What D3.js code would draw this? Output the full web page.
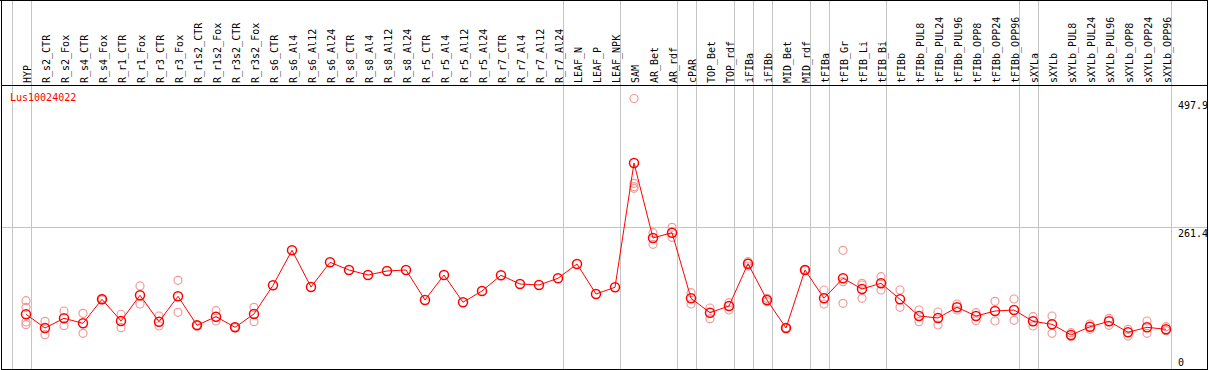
<!DOCTYPE html>
<html>
<head>
<meta charset="utf-8">
<script src="https://cdn.jsdelivr.net/npm/d3@7"></script>
<style>
  body { margin: 0; background: #fff; }
  svg { display: block; }
  text { font-family: "DejaVu Sans Mono", monospace; font-size: 10px; }
</style>
</head>
<body>
<div id="chart"></div>
<script>
var svgWidth = 1209;
var svgHeight = 370;

var geneName = "Lus10024022";

var categories = ["HYP", "R_s2_CTR", "R_s2_Fox", "R_s4_CTR", "R_s4_Fox", "R_r1_CTR", "R_r1_Fox",
    "R_r3_CTR", "R_r3_Fox", "R_r1s2_CTR", "R_r1s2_Fox", "R_r3s2_CTR", "R_r3s2_Fox",
    "R_s6_CTR", "R_s6_Al4", "R_s6_Al12", "R_s6_Al24", "R_s8_CTR", "R_s8_Al4", "R_s8_Al12", "R_s8_Al24",
    "R_r5_CTR", "R_r5_Al4", "R_r5_Al12", "R_r5_Al24", "R_r7_CTR", "R_r7_Al4", "R_r7_Al12", "R_r7_Al24",
    "LEAF_N", "LEAF_P", "LEAF_NPK", "SAM", "AR_Bet", "AR_rdf", "cPAR", "TOP_Bet", "TOP_rdf",
    "iFIBa", "iFIBb", "MID_Bet", "MID_rdf", "tFIBa", "tFIB_Gr", "tFIB_Li", "tFIB_Bi", "tFIBb",
    "tFIBb_PUL8", "tFIBb_PUL24", "tFIBb_PUL96", "tFIBb_OPP8", "tFIBb_OPP24", "tFIBb_OPP96",
    "sXYLa", "sXYLb", "sXYLb_PUL8", "sXYLb_PUL24", "sXYLb_PUL96", "sXYLb_OPP8", "sXYLb_OPP24", "sXYLb_OPP96"];

// last category of each sample group (a grey separator is drawn after it)
var groupEnds = ["HYP", "R_r7_Al24", "LEAF_NPK", "AR_rdf", "cPAR", "TOP_rdf", "iFIBa", "iFIBb",
    "MID_rdf", "tFIBa", "tFIB_Bi", "tFIBb_OPP96", "sXYLa", "sXYLb_OPP96"];

var meanValues = [102.2, 77.0, 94.8, 85.6, 129.7, 89.9, 137.0, 88.6, 135.2, 82.0, 97.8, 78.3, 102.7,
    155.3, 219.5, 152.2, 197.5, 183.4, 174.2, 181.6, 183.4,
    128.4, 174.2, 124.2, 144.9, 173.7, 157.7, 155.9, 168.2,
    194.4, 139.4, 151.7, 379.6, 242.1, 251.8, 131.5, 105.1, 117.4,
    195.0, 128.4, 77.0, 183.4, 131.5, 168.2, 148.6, 159.0, 129.7,
    99.0, 95.4, 115.0, 99.0, 108.2, 110.0,
    89.3, 83.8, 64.2, 79.4, 89.3, 69.1, 78.3, 74.6];

var replicateValues = [
    [127.1, 115.0, 88.0, 83.1], [89.3, 64.7], [108.2, 81.2], [104.0, 67.3], [128.5, 131.0],
    [102.2, 77.6], [154.1, 121.0], [99.0, 80.7], [164.5, 105.8], [82.5, 81.5], [108.8, 89.9],
    [79.0, 77.6], [115.0, 88.6],
    [], [], [], [], [], [], [], [],
    [], [], [], [], [], [], [], [],
    [], [], [],
    [497.9, 342.4, 336.2, 333.2], [251.8, 230.5], [261.7, 243.4], [141.8, 121.0], [113.7, 94.1], [123.4, 110.0],
    [198.6, 190.7], [131.5, 125.3], [77.5, 76.5], [183.0, 184.0], [146.7, 121.0],
    [219.5, 161.9, 122.3], [159.0, 155.9, 131.5], [171.1, 146.7], [146.7, 115.0],
    [110.0, 88.6], [106.4, 82.5], [121.0, 110.0], [105.1, 90.4], [126.0, 89.9], [130.2, 91.1],
    [97.8, 80.7], [99.0, 67.3], [68.4, 61.1], [84.4, 74.6], [94.8, 82.0], [74.6, 62.4], [89.9, 67.3], [79.4, 72.1]];

var yTicks = [0, 261.4, 497.9];

var headerBottom = 85;

var svg = d3.select("#chart")
    .append("svg")
    .attr("width", svgWidth)
    .attr("height", svgHeight);

var xScale = d3.scalePoint()
    .domain(categories)
    .range([26, 1166]);

var step = xScale.step();

var yScale = d3.scaleLinear()
    .domain([0, 497.9])
    .range([370, 98.5]);

// grey separators between sample groups
var sepX = [xScale(categories[0]) - step + 4.5].concat(groupEnds.map(d => xScale(d) + 4.5));
svg.append("g")
    .selectAll("line")
    .data(sepX)
    .enter()
    .append("line")
    .attr("x1", d => Math.round(d) + 0.5)
    .attr("x2", d => Math.round(d) + 0.5)
    .attr("y1", 0)
    .attr("y2", svgHeight)
    .attr("stroke", "#c4c4c4")
    .attr("stroke-width", 1);

// horizontal grid for inner ticks
svg.append("g")
    .selectAll("line")
    .data(yTicks.filter(d => d > 0 && d < 497.9))
    .enter()
    .append("line")
    .attr("x1", 1)
    .attr("x2", 1208)
    .attr("y1", d => Math.round(yScale(d)) + 0.5)
    .attr("y2", d => Math.round(yScale(d)) + 0.5)
    .attr("stroke", "#c4c4c4")
    .attr("stroke-width", 1);

// frame
svg.append("line").attr("x1", 0).attr("x2", 1208).attr("y1", 0.5).attr("y2", 0.5).attr("stroke", "#000");
svg.append("line").attr("x1", 1).attr("x2", 1208).attr("y1", headerBottom + 0.5).attr("y2", headerBottom + 0.5).attr("stroke", "#000");
svg.append("line").attr("x1", 1).attr("x2", 1208).attr("y1", 369.5).attr("y2", 369.5).attr("stroke", "#000");
svg.append("line").attr("x1", 1.5).attr("x2", 1.5).attr("y1", 0).attr("y2", 370).attr("stroke", "#000");
svg.append("line").attr("x1", 1207.5).attr("x2", 1207.5).attr("y1", 0).attr("y2", 370).attr("stroke", "#000");

// category labels (rotated)
svg.append("g")
    .selectAll("text")
    .data(categories)
    .enter()
    .append("text")
    .attr("transform", d => `translate(${xScale(d) + 4.5}, ${headerBottom - 2}) rotate(-90)`)
    .attr("fill", "#000")
    .text(d => d);

// y axis labels on the right
svg.append("g")
    .selectAll("text")
    .data(yTicks)
    .enter()
    .append("text")
    .attr("x", 1178)
    .attr("y", d => Math.min(yScale(d) + 10, 366))
    .attr("fill", "#000")
    .text(d => d === 0 ? "0" : d.toFixed(1));

// gene name
svg.append("text")
    .attr("x", 10)
    .attr("y", 101)
    .attr("fill", "#ff0000")
    .text(geneName);

// replicates
var reps = [];
replicateValues.forEach(function (arr, i) {
    arr.forEach(function (v) {
        reps.push({ cat: categories[i], value: v });
    });
});

svg.append("g")
    .selectAll("circle")
    .data(reps)
    .enter()
    .append("circle")
    .attr("cx", d => xScale(d.cat))
    .attr("cy", d => yScale(d.value))
    .attr("r", 4)
    .attr("fill", "none")
    .attr("stroke", "#f09a9a")
    .attr("stroke-width", 1.2);

// mean line
var line = d3.line()
    .x((d, i) => xScale(categories[i]))
    .y(d => yScale(d));

svg.append("path")
    .datum(meanValues)
    .attr("d", line)
    .attr("fill", "none")
    .attr("stroke", "#ff0000")
    .attr("stroke-width", 1);

svg.append("g")
    .selectAll("circle")
    .data(meanValues)
    .enter()
    .append("circle")
    .attr("cx", (d, i) => xScale(categories[i]))
    .attr("cy", d => yScale(d))
    .attr("r", 4.5)
    .attr("fill", "none")
    .attr("stroke", "#ff0000")
    .attr("stroke-width", 1.5);
</script>
</body>
</html>
